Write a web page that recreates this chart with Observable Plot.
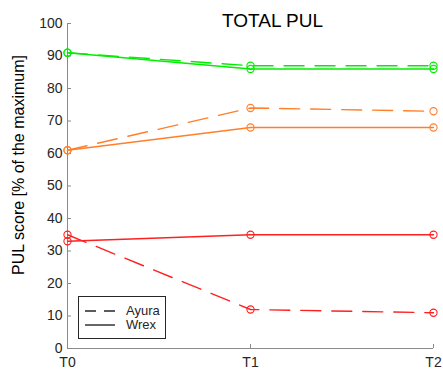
<!DOCTYPE html>
<html>
<head>
<meta charset="utf-8">
<script src="https://cdn.jsdelivr.net/npm/d3@7"></script>
<script src="https://cdn.jsdelivr.net/npm/@observablehq/plot@0.6"></script>
<style>
  html, body { margin: 0; padding: 0; background: #fff; }
  #wrap { position: relative; width: 443px; height: 370px; overflow: hidden; font-family: "Liberation Sans", Arial, sans-serif; }
  #legend { position: absolute; left: 78px; top: 296px; width: 86px; height: 41px; border: 1px solid #262626; background: #fff; }
</style>
</head>
<body>
<div id="wrap"></div>
<script>
// ---- data ----
const times = ["T0", "T1", "T2"];
const yTicks = [0, 10, 20, 30, 40, 50, 60, 70, 80, 90, 100];
const title = "TOTAL PUL";
const yLabel = "PUL score [% of the maximum]";
const seriesNames = ["Ayura", "Wrex"];
const groupColors = ["#00ee00", "#ff7f2a", "#ff2020"];
const ayuraGreen = [91, 87, 87];
const wrexGreen = [91, 86, 86];
const ayuraOrange = [61, 74, 73];
const wrexOrange = [61, 68, 68];
const ayuraRed = [35, 12, 11];
const wrexRed = [33, 35, 35];

const ayuraSets = [ayuraGreen, ayuraOrange, ayuraRed];
const wrexSets = [wrexGreen, wrexOrange, wrexRed];

function toRows(sets, name) {
  const rows = [];
  sets.forEach((vals, gi) => {
    vals.forEach((v, i) => rows.push({time: times[i], value: v, group: name + gi, color: groupColors[gi]}));
  });
  return rows;
}
const ayuraRows = toRows(ayuraSets, seriesNames[0]);
const wrexRows = toRows(wrexSets, seriesNames[1]);
const allRows = ayuraRows.concat(wrexRows);

const axisColor = "#8a8a8a";
const textColor = "#262626";

const chart = Plot.plot({
  width: 443,
  height: 370,
  marginLeft: 67,
  marginRight: 10,
  marginTop: 23,
  marginBottom: 22,
  style: {fontFamily: "'Liberation Sans', Arial, sans-serif", fontSize: "14px", color: textColor, background: "#fff"},
  x: {type: "point", domain: times, padding: 0, label: null},
  y: {domain: [0, 100], ticks: yTicks, label: null},
  color: {type: "identity"},
  marks: [
    Plot.ruleY([0], {stroke: axisColor, strokeWidth: 1}),
    Plot.ruleX([times[0]], {stroke: axisColor, strokeWidth: 1}),
    Plot.axisY({ticks: yTicks, tickSize: 0, tickPadding: 5, fontSize: 14, fill: textColor, label: null}),
    Plot.axisY({ticks: yTicks, tickSize: 4, dx: 4, tickFormat: () => "", stroke: axisColor, label: null}),
    Plot.axisX({tickSize: 0, tickPadding: 9, fontSize: 14, fill: textColor, label: null}),
    Plot.axisX({tickSize: 4, dy: -4, tickFormat: () => "", stroke: axisColor, label: null}),
    Plot.line(ayuraRows, {x: "time", y: "value", z: "group", stroke: "color", strokeWidth: 1.4, strokeDasharray: "20,11"}),
    Plot.line(wrexRows, {x: "time", y: "value", z: "group", stroke: "color", strokeWidth: 1.4}),
    Plot.dot(allRows, {x: "time", y: "value", stroke: "color", fill: "none", r: 3.6, strokeWidth: 1.1}),
    Plot.text([title], {text: d => d, frameAnchor: "top", dx: 22, dy: 3, lineAnchor: "bottom", fontSize: 19, fill: "#000"}),
    Plot.text([yLabel], {text: d => d, frameAnchor: "left", rotate: -90, dx: -49, dy: -21, fontSize: 16, fill: "#000", textAnchor: "middle", lineAnchor: "middle"})
  ]
});
document.getElementById("wrap").appendChild(chart);

// legend
const legend = document.createElement("div");
legend.id = "legend";
const ns = "http://www.w3.org/2000/svg";
const lsvg = document.createElementNS(ns, "svg");
lsvg.setAttribute("width", 86);
lsvg.setAttribute("height", 41);
seriesNames.forEach((name, i) => {
  const yy = 14 + i * 14;
  const ln = document.createElementNS(ns, "line");
  ln.setAttribute("x1", 6); ln.setAttribute("x2", 36);
  ln.setAttribute("y1", yy); ln.setAttribute("y2", yy);
  ln.setAttribute("stroke", textColor);
  ln.setAttribute("stroke-width", 1.4);
  if (i === 0) ln.setAttribute("stroke-dasharray", "11,8");
  lsvg.appendChild(ln);
  const t = document.createElementNS(ns, "text");
  t.setAttribute("x", 47); t.setAttribute("y", yy + 4);
  t.setAttribute("font-size", 13);
  t.setAttribute("font-family", "'Liberation Sans', Arial, sans-serif");
  t.setAttribute("fill", textColor);
  t.textContent = name;
  lsvg.appendChild(t);
});
legend.appendChild(lsvg);
document.getElementById("wrap").appendChild(legend);
</script>
</body>
</html>
